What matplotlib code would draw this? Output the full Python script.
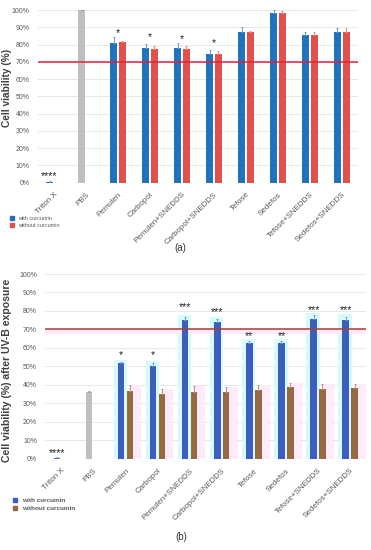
import numpy as np
import matplotlib
matplotlib.use('Agg')
import matplotlib.pyplot as plt
from matplotlib.lines import Line2D

plt.rcParams['font.family'] = ['Liberation Sans', 'DejaVu Sans']

groups = ['Triton X', 'PBS', 'Pemulen', 'Carbopol', 'Pemulen+SNEDDS', 'Carbopol+SNEDDS',
          'Tefose', 'Sedefos', 'Tefose+SNEDDS', 'Sedefos+SNEDDS']

# (a) cell viability
a_with = [0.5, 100, 81.1, 78.2, 77.8, 74.7, 87.5, 98.4, 85.4, 87.5]
a_with_err = [0.3, 0, 3.0, 2.3, 3.0, 2.3, 2.8, 1.6, 2.1, 2.2]
a_without = [np.nan, np.nan, 81.3, 77.6, 77.4, 74.5, 87.5, 98.4, 85.4, 87.5]
a_without_err = [0, 0, 0.8, 1.5, 1.6, 1.5, 0.5, 1.2, 2.1, 1.9]
a_stars = ['****', '', '*', '*', '*', '*', '', '', '', '']
a_star_y = [4.0, 0, 86.5, 84.3, 83.3, 80.6, 0, 0, 0, 0]

# (b) cell viability after UV-B exposure
b_with = [0.5, 36.0, 51.8, 50.0, 75.1, 73.8, 62.4, 62.4, 75.5, 75.1]
b_with_err = [0.3, 0.7, 0.6, 1.8, 1.6, 1.7, 1.1, 1.1, 2.3, 1.8]
b_without = [np.nan, np.nan, 36.9, 35.3, 36.0, 36.2, 37.3, 39.1, 38.0, 38.2]
b_without_err = [0, 0, 3.3, 2.5, 3.5, 2.5, 2.9, 1.8, 2.4, 2.2]
b_stars = ['****', '', '*', '*', '***', '***', '**', '**', '***', '***']
b_star_y = [3.0, 0, 56.4, 55.9, 82.2, 79.5, 66.6, 66.6, 80.5, 80.5]

x = np.arange(len(groups))
gray_txt = '#595959'


def style_axis(ax):
    ax.set_xlim(-0.5, len(groups) - 0.5)
    ax.set_ylim(0, 100)
    ax.set_yticks(np.arange(0, 101, 10))
    ax.set_yticklabels(['%d%%' % v for v in range(0, 101, 10)], fontsize=5, color=gray_txt)
    ax.yaxis.grid(True, color='#e4e4e4', lw=0.6)
    ax.set_axisbelow(True)
    for s in ax.spines.values():
        s.set_visible(False)
    ax.tick_params(length=0, pad=6)
    ax.set_xticks(x)
    ax.set_xticklabels(groups, rotation=45, ha='right', rotation_mode='anchor',
                       fontsize=5.8, color=gray_txt)


fig = plt.figure(figsize=(3.71, 5.5), dpi=100)

# ---- panel (a)
ax1 = fig.add_axes([0.1024, 0.6678, 0.8625, 0.314])
style_axis(ax1)
w = 0.22
c_blue, c_red = '#1f73bd', '#e2504a'
cols = [c_blue] * len(groups)
cols[1] = '#bfbfbf'
ax1.bar(x - 0.14, a_with, w, color=cols, zorder=2)
ax1.errorbar(x - 0.14, a_with, yerr=[np.zeros(len(x)), a_with_err], fmt='none',
             ecolor='#6a9fd0', elinewidth=0.7, capsize=1, capthick=0.7, zorder=3)
ax1.bar(x + 0.14, a_without, w, color=c_red, zorder=2)
ax1.errorbar(x + 0.14, a_without, yerr=[np.zeros(len(x)), a_without_err], fmt='none',
             ecolor='#e88a85', elinewidth=0.7, capsize=1, capthick=0.7, zorder=3)
ax1.axhline(70, color='#e6203c', lw=1.1, zorder=4)
for i, s in enumerate(a_stars):
    if s:
        xi = x[i] - 0.14 if i == 0 else x[i]
        ax1.text(xi, a_star_y[i], s, ha='center', va='center', fontsize=7.5, color='#222222')
ax1.set_ylabel('Cell viability (%)', fontsize=7.3, fontweight='bold', color='#404040')
ax1.yaxis.set_label_coords(-0.08, 0.55)

h1 = [Line2D([], [], marker='s', ls='', color=c_blue, markersize=2.5),
      Line2D([], [], marker='s', ls='', color=c_red, markersize=2.5)]
fig.legend(h1, ['with curcumin', 'without curcumin'], loc='center left',
           bbox_to_anchor=(0.01, 0.596), fontsize=4, frameon=False, handletextpad=0,
           labelspacing=0.3, borderpad=0, labelcolor=gray_txt)
fig.text(0.487, 0.549, '(a)', ha='center', va='center', fontsize=7, color='#333333')

# ---- panel (b)
ax2 = fig.add_axes([0.1224, 0.1658, 0.8644, 0.336])
style_axis(ax2)
w = 0.2
b_blue, b_brown = '#3c5fbf', '#98683f'
cols = [b_blue] * len(groups)
cols[1] = '#bfbfbf'
# light highlight boxes behind the bars
for i in range(2, len(groups)):
    ax2.bar(x[i] - 0.16, b_with[i] + b_with_err[i] + 1.3, 0.42, color='#d6fbfb', zorder=1)
    ax2.bar(x[i] + 0.3, b_without[i] + b_without_err[i], 0.38, color='#feeaf8', zorder=1)
ax2.axhspan(67.5, 70, xmin=0, xmax=1, color='#feeaf8', zorder=1, lw=0)
ax2.bar(x - 0.14, b_with, w, color=cols, zorder=2)
ax2.errorbar(x - 0.14, b_with, yerr=[np.zeros(len(x)), b_with_err], fmt='none',
             ecolor='#7f95d0', elinewidth=0.7, capsize=1, capthick=0.7, zorder=3)
ax2.bar(x + 0.14, b_without, w, color=b_brown, zorder=2)
ax2.errorbar(x + 0.14, b_without, yerr=[np.zeros(len(x)), b_without_err], fmt='none',
             ecolor='#b89a80', elinewidth=0.7, capsize=1, capthick=0.7, zorder=3)
ax2.axhline(70, color='#b03a36', lw=1.1, zorder=4)
for i, s in enumerate(b_stars):
    if s:
        xi = x[i] - 0.14
        ax2.text(xi, b_star_y[i], s, ha='center', va='center', fontsize=7.5, color='#222222')
ax2.set_ylabel('Cell viability (%) after UV-B exposure', fontsize=7.6, fontweight='bold',
               color='#404040')
ax2.yaxis.set_label_coords(-0.105, 0.48)

h2 = [Line2D([], [], marker='s', ls='', color=b_blue, markersize=2.5),
      Line2D([], [], marker='s', ls='', color=b_brown, markersize=2.5)]
fig.legend(h2, ['with curcumin', 'without curcumin'], loc='center left',
           bbox_to_anchor=(0.015, 0.083), frameon=False, handletextpad=0,
           labelspacing=0.35, borderpad=0, labelcolor=gray_txt, prop={'weight': 'bold', 'size': 4.6})
fig.text(0.49, 0.024, '(b)', ha='center', va='center', fontsize=7, color='#333333')

fig.savefig('out.png', dpi=100)
